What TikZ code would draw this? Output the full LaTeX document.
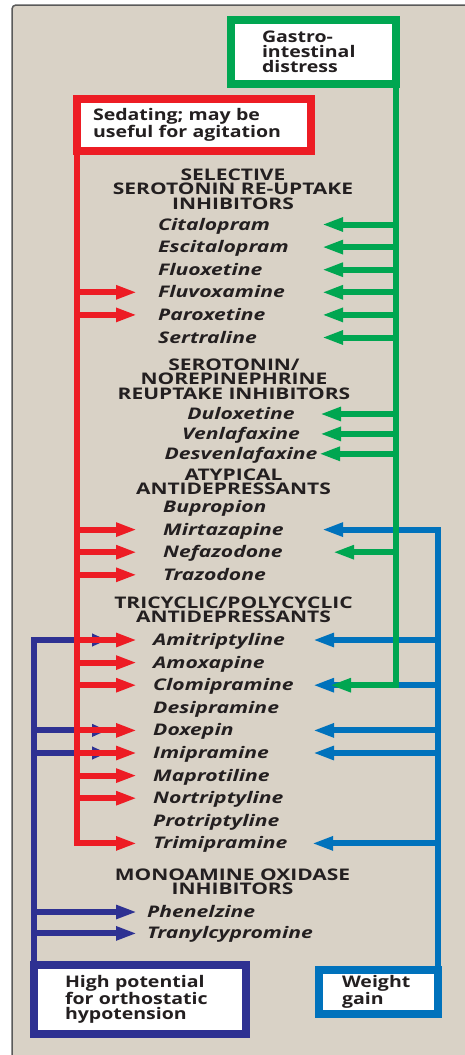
\documentclass[tikz,border=0pt]{standalone}
\usepackage{fontspec}
\setmainfont{Open Sans}[FakeStretch=1.22]
\newfontfamily\headfont{Open Sans}[FakeStretch=1.31]
\newfontfamily\drugfont{Open Sans}[FakeStretch=1.32]
\usepackage{tikz}
\usetikzlibrary{positioning,arrows.meta}
\definecolor{SideRed}{HTML}{ED1C24}
\definecolor{SideGreen}{HTML}{00A651}
\definecolor{SideNavy}{HTML}{2E3192}
\definecolor{SideBlue}{HTML}{0072BC}
\definecolor{SidePanel}{HTML}{D9D2C6}
\definecolor{SideFrame}{HTML}{5A5A5A}
\definecolor{SideInk}{HTML}{231F20}

\begin{document}
\begin{tikzpicture}[
  x=1pt,y=-1pt,
  node distance=9.2pt,
  box/.style={draw=#1,line width=8pt,fill=white,outer sep=0pt,anchor=north west,
    align=left,text=SideInk,font=\fontsize{16}{15}\selectfont\bfseries},
  head/.style={anchor=north,inner sep=0pt,align=center,text=SideInk,
    font=\headfont\fontsize{16}{14.5}\selectfont\bfseries},
  drug/.style={anchor=west,inner sep=0pt,text height=12pt,text depth=1pt,text=SideInk,
    font=\drugfont\fontsize{16}{16}\selectfont\bfseries\itshape},
  under/.style={below=of #1.south west,anchor=north west},
  arr/.style={draw=#1,line width=6pt,-{Triangle[length=21pt,width=13pt]}},
  short/.style={-{Triangle[length=15pt,width=12pt]}}
]
  \useasboundingbox (0,0) rectangle (465,1055);
  \fill[white] (0,0) rectangle (465,1055);
  \fill[SidePanel,rounded corners=4pt] (12,1070) -- (12,5) -- (480,5) -- (480,1070) -- cycle;
  \draw[SideFrame,line width=1.5pt,rounded corners=4pt] (12,1070) -- (12,5) -- (480,5);

  % side effect boxes
  \node[box=SideGreen,minimum width=165pt,minimum height=64pt,text width=103pt,inner xsep=31pt]
    (gibox) at (231,20) {Gastro-\\intestinal\\distress};
  \node[box=SideRed,minimum width=234pt,minimum height=52pt,text width=202pt,inner xsep=16pt]
    (sedbox) at (77,99) {Sedating;~may~be\\useful~for~agitation};
  \node[box=SideNavy,minimum width=212pt,minimum height=69pt,text width=150pt,inner xsep=31pt]
    (ohbox) at (34,965) {High~potential\\for~orthostatic\\hypotension};
  \node[box=SideBlue,minimum width=119pt,minimum height=44pt,text width=73pt,inner xsep=23pt]
    (wgbox) at (319,970) {Weight\\gain};

  % drug classes
  \node[head] (ssri) at (233,168.6) {SELECTIVE\\SEROTONIN RE-UPTAKE\\INHIBITORS};
  \node[drug] (cit) at (158,224.5) {Citalopram};
  \node[drug,under=cit] (esc) {Escitalopram};
  \node[drug,under=esc] (fluox) {Fluoxetine};
  \node[drug,under=fluox] (fluv) {Fluvoxamine};
  \node[drug,under=fluv] (parox) {Paroxetine};
  \node[drug,under=parox] (sert) {Sertraline};

  \node[head] (snri) at (234,358.6) {SEROTONIN/\\NOREPINEPHRINE\\REUPTAKE INHIBITORS};
  \node[drug,anchor=center] (dul) at (241,414) {Duloxetine};
  \node[drug,below=6.5pt of dul] (ven) {Venlafaxine};
  \node[drug,below=6.5pt of ven] (desv) {Desvenlafaxine};

  \node[head] (atyp) at (233.5,468.6) {ATYPICAL\\ANTIDEPRESSANTS};
  \node[drug] (bup) at (163,507) {Bupropion};
  \node[drug,under=bup] (mir) {Mirtazapine};
  \node[drug,under=mir] (nef) {Nefazodone};
  \node[drug,under=nef] (traz) {Trazodone};

  \node[head] (tca) at (233.5,596.6) {TRICYCLIC/POLYCYCLIC\\ANTIDEPRESSANTS};
  \node[drug] (amit) at (153,640) {Amitriptyline};
  \node[drug,under=amit] (amox) {Amoxapine};
  \node[drug,under=amox] (clomi) {Clomipramine};
  \node[drug,under=clomi] (desi) {Desipramine};
  \node[drug,under=desi] (doxe) {Doxepin};
  \node[drug,under=doxe] (imi) {Imipramine};
  \node[drug,under=imi] (mapro) {Maprotiline};
  \node[drug,under=mapro] (nort) {Nortriptyline};
  \node[drug,under=nort] (prot) {Protriptyline};
  \node[drug,under=prot] (trimi) {Trimipramine};

  \node[head] (maoi) at (232.5,868.6) {MONOAMINE OXIDASE\\INHIBITORS};
  \node[drug] (phe) at (147,912) {Phenelzine};
  \node[drug,below=8pt of phe.south west,anchor=north west] (tra) {Tranylcypromine};

  % arrow tips
  \coordinate (redtip) at (137,0);
  \coordinate (greentip) at (322,0);
  \coordinate (bluetip) at (313,0);
  \coordinate (navytip) at (107,0);

  % orthostatic hypotension
  \draw[arr=SideNavy,short] (ohbox.north west) |- (navytip |- amit);
  \draw[arr=SideNavy,short] (ohbox.north west |- doxe) -- (navytip |- doxe);
  \draw[arr=SideNavy,short] (ohbox.north west |- imi) -- (navytip |- imi);
  \draw[arr=SideNavy] (ohbox.north west |- phe) -- (redtip |- phe);
  \draw[arr=SideNavy] (ohbox.north west |- tra) -- (redtip |- tra);

  % weight gain
  \draw[arr=SideBlue] (wgbox.north east) |- ([xshift=9pt]bluetip |- mir);
  \draw[arr=SideBlue] (wgbox.north east |- amit) -- (bluetip |- amit);
  \draw[arr=SideBlue] (wgbox.north east |- clomi) -- (bluetip |- clomi);
  \draw[arr=SideBlue] (wgbox.north east |- doxe) -- (bluetip |- doxe);
  \draw[arr=SideBlue] (wgbox.north east |- imi) -- (bluetip |- imi);
  \draw[arr=SideBlue] (wgbox.north east |- trimi) -- ([xshift=-1pt]bluetip |- trimi);

  % sedating
  \draw[arr=SideRed] (sedbox.south west) |- (redtip |- trimi);
  \draw[arr=SideRed] (sedbox.south west |- fluv) -- (redtip |- fluv);
  \draw[arr=SideRed] (sedbox.south west |- parox) -- (redtip |- parox);
  \draw[arr=SideRed] (sedbox.south west |- mir) -- (redtip |- mir);
  \draw[arr=SideRed] (sedbox.south west |- nef) -- (redtip |- nef);
  \draw[arr=SideRed] (sedbox.south west |- traz) -- (redtip |- traz);
  \draw[arr=SideRed] (sedbox.south west |- amit) -- (redtip |- amit);
  \draw[arr=SideRed] (sedbox.south west |- amox) -- (redtip |- amox);
  \draw[arr=SideRed] (sedbox.south west |- clomi) -- (redtip |- clomi);
  \draw[arr=SideRed] (sedbox.south west |- doxe) -- (redtip |- doxe);
  \draw[arr=SideRed] (sedbox.south west |- imi) -- (redtip |- imi);
  \draw[arr=SideRed] (sedbox.south west |- mapro) -- (redtip |- mapro);
  \draw[arr=SideRed] (sedbox.south west |- nort) -- (redtip |- nort);

  % gastrointestinal distress
  \draw[arr=SideGreen] (gibox.south east) |- ([xshift=8pt]greentip |- clomi);
  \draw[arr=SideGreen] (gibox.south east |- cit) -- (greentip |- cit);
  \draw[arr=SideGreen] (gibox.south east |- esc) -- (greentip |- esc);
  \draw[arr=SideGreen] (gibox.south east |- fluox) -- (greentip |- fluox);
  \draw[arr=SideGreen] (gibox.south east |- fluv) -- (greentip |- fluv);
  \draw[arr=SideGreen] (gibox.south east |- parox) -- (greentip |- parox);
  \draw[arr=SideGreen] (gibox.south east |- sert) -- (greentip |- sert);
  \draw[arr=SideGreen] (gibox.south east |- dul) -- ([xshift=-2pt]greentip |- dul);
  \draw[arr=SideGreen] (gibox.south east |- ven) -- ([xshift=-2pt]greentip |- ven);
  \draw[arr=SideGreen] (gibox.south east |- desv) -- ([xshift=-3pt]greentip |- desv);
  \draw[arr=SideGreen] (gibox.south east |- nef) -- ([xshift=11pt]greentip |- nef);
\end{tikzpicture}
\end{document}
